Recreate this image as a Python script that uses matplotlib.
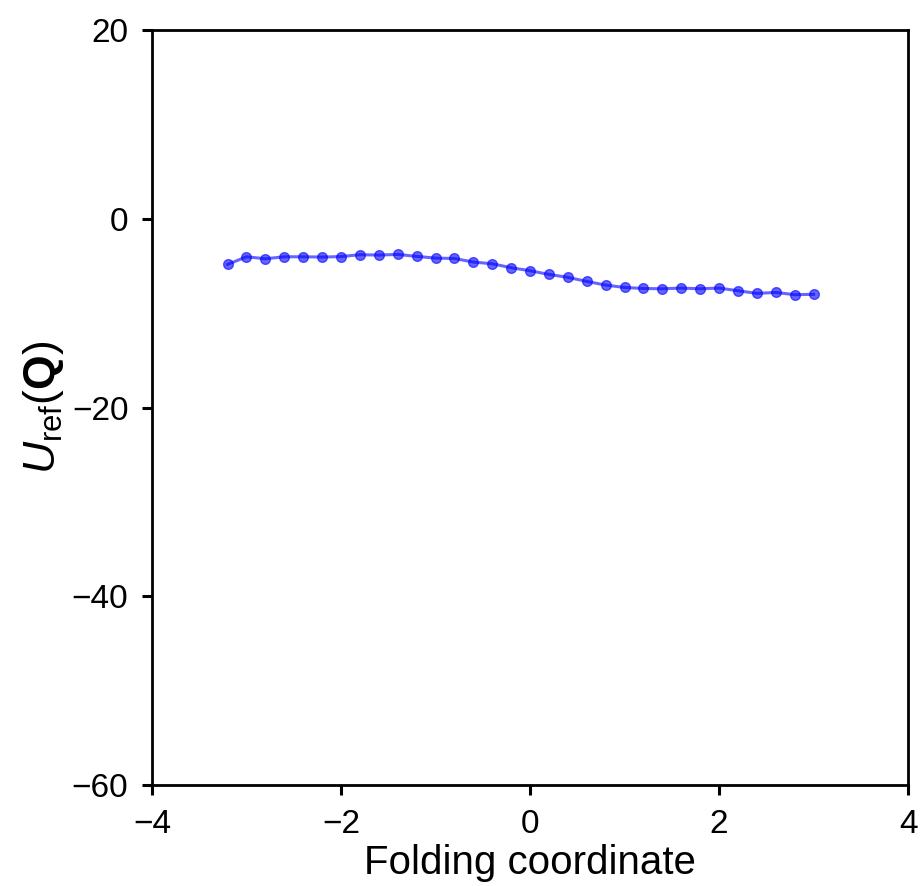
import matplotlib
matplotlib.use("Agg")
import matplotlib.pyplot as plt

plt.rcParams['font.family'] = ['Liberation Sans', 'DejaVu Sans']
plt.rcParams['mathtext.fontset'] = 'custom'
plt.rcParams['mathtext.rm'] = 'Liberation Sans'
plt.rcParams['mathtext.it'] = 'Liberation Sans:italic'
plt.rcParams['mathtext.bf'] = 'Liberation Sans:bold'

# folding coordinate and reference energy
q = [-3.2, -3.0, -2.8, -2.6, -2.4, -2.2, -2.0, -1.8, -1.6, -1.4, -1.2, -1.0,
     -0.8, -0.6, -0.4, -0.2, 0.0, 0.2, 0.4, 0.6, 0.8, 1.0, 1.2, 1.4, 1.6,
     1.8, 2.0, 2.2, 2.4, 2.6, 2.8, 3.0]
u_ref = [-4.83, -4.02, -4.23, -4.02, -4.02, -4.05, -4.0, -3.8, -3.84, -3.77,
         -3.98, -4.16, -4.2, -4.58, -4.76, -5.18, -5.5, -5.89, -6.2, -6.63,
         -7.02, -7.27, -7.38, -7.41, -7.34, -7.41, -7.34, -7.62, -7.9, -7.8,
         -8.04, -8.0]

fig = plt.figure(figsize=(9.21, 8.86), dpi=100)
ax = fig.add_axes([0.165, 0.114, 0.821, 0.852])

ax.plot(q, u_ref, '-o', color='blue', alpha=0.6, lw=2.2, ms=7)

ax.set_xlim(-4, 4)
ax.set_ylim(-60, 20)
ax.set_xticks([-4, -2, 0, 2, 4])
ax.set_yticks([-60, -40, -20, 0, 20])
ax.tick_params(labelsize=24, width=2.2, length=7, pad=10)
for s in ax.spines.values():
    s.set_linewidth(2)

ax.set_xlabel('Folding coordinate', fontsize=29, labelpad=3)
ax.set_ylabel(r'$U_{\mathrm{ref}}(\mathbf{Q})$', fontsize=32, labelpad=4)

fig.savefig('out.png', dpi=100)
